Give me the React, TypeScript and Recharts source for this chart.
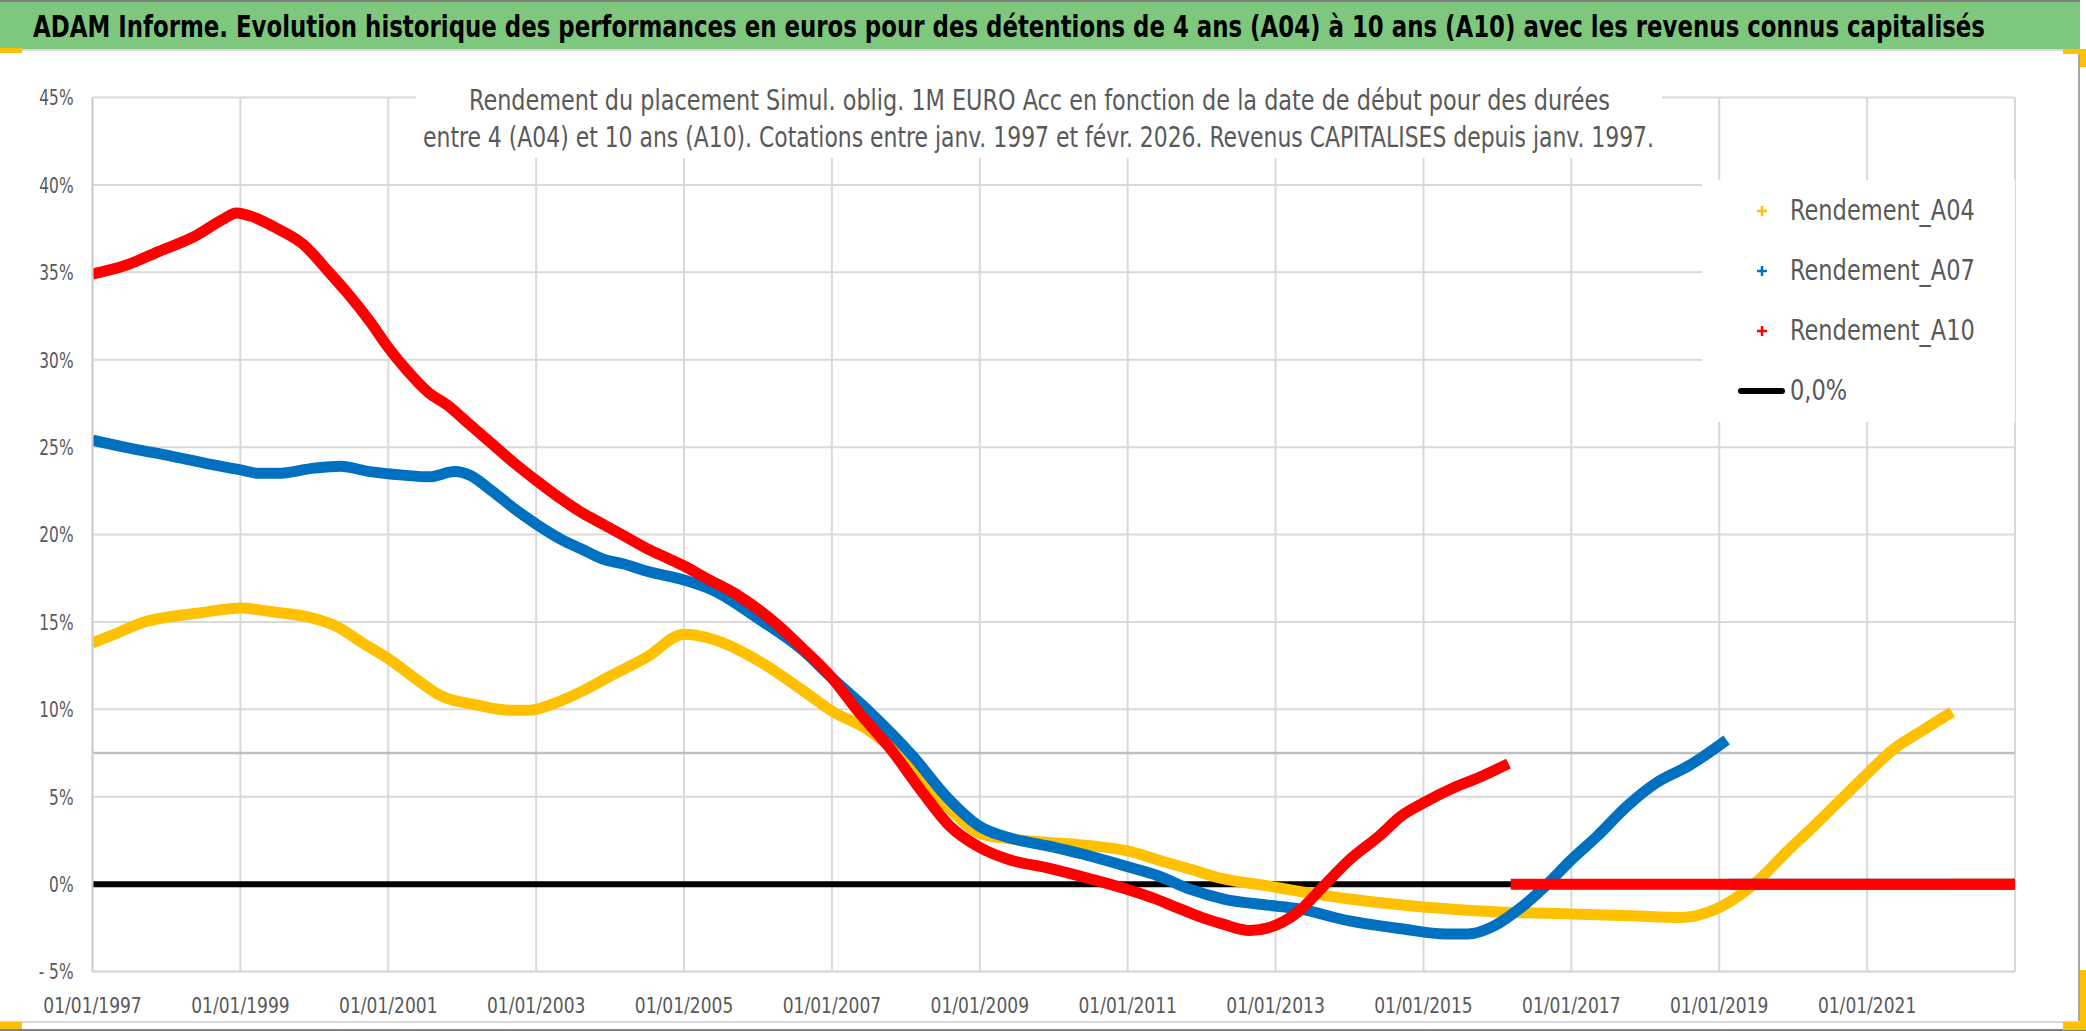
import React from "react"
import { LineChart, Line, XAxis, YAxis, CartesianGrid, ReferenceLine } from "recharts"

const FONT = "'DejaVu Sans Condensed', 'DejaVu Sans', sans-serif"

const TITLE =
  "ADAM Informe. Evolution historique des performances en euros pour des détentions de 4 ans (A04) à 10 ans (A10) avec les revenus connus capitalisés"
const SUBTITLE_1 =
  "Rendement du placement Simul. oblig. 1M EURO Acc en fonction de la date de début pour des durées"
const SUBTITLE_2 =
  "entre 4 (A04) et 10 ans (A10). Cotations entre janv. 1997 et févr. 2026. Revenus CAPITALISES depuis janv. 1997."

const X_TICKS = [1997, 1999, 2001, 2003, 2005, 2007, 2009, 2011, 2013, 2015, 2017, 2019, 2021]
const X_DOMAIN = [1997, 2023]
const Y_TICKS = [-5, 0, 5, 10, 15, 20, 25, 30, 35, 40, 45]

// Rendement_A04 (yellow)
const A04_YEARS = [
  1997.0, 1997.3, 1997.7, 1998.05, 1998.5, 1999.0, 1999.4, 1999.9, 2000.3, 2000.65, 2001.0, 2001.45,
  2001.7, 2002.2, 2002.65, 2002.9, 2003.25, 2003.65, 2004.0, 2004.5, 2005.0, 2005.4, 2006.0, 2006.6,
  2007.0, 2007.5, 2007.8, 2008.2, 2008.6, 2009.0, 2009.4, 2009.9, 2010.5, 2011.0, 2011.4, 2011.85,
  2012.3, 2012.9, 2013.3, 2014.0, 2015.0, 2016.1, 2017.0, 2017.8, 2018.5, 2018.85, 2019.2, 2019.55,
  2019.9, 2020.25, 2020.6, 2020.95, 2021.35, 2021.75, 2022.15,
]
const A04_VALUES = [
  13.8, 14.3, 15.0, 15.3, 15.55, 15.8, 15.6, 15.3, 14.75, 13.8, 12.9, 11.5,
  10.8, 10.25, 9.95, 9.95, 10.35, 11.1, 11.9, 13.0, 14.3, 14.0, 12.8, 11.1,
  9.9, 8.8, 7.8, 6.0, 4.3, 2.9, 2.6, 2.4, 2.2, 1.9, 1.4, 0.85,
  0.3, -0.1, -0.4, -0.85, -1.3, -1.6, -1.7, -1.8, -1.9, -1.6, -0.85, 0.3,
  1.8, 3.2, 4.65, 6.1, 7.7, 8.8, 9.85,
]

// Rendement_A07 (blue)
const A07_YEARS = [
  1997.0, 1997.55, 1998.05, 1998.5, 1999.0, 1999.25, 1999.5, 2000.0, 2000.35, 2000.75, 2001.2, 2001.55,
  2001.9, 2002.1, 2002.4, 2002.7, 2003.0, 2003.35, 2003.6, 2003.9, 2004.2, 2004.5, 2005.0, 2005.4,
  2006.0, 2006.6, 2007.0, 2007.5, 2008.1, 2008.55, 2009.0, 2009.4, 2009.9, 2010.5, 2011.0, 2011.4,
  2011.85, 2012.3, 2012.9, 2013.3, 2014.0, 2014.7, 2015.3, 2015.6, 2015.95, 2016.3, 2016.65, 2017.0,
  2017.35, 2017.75, 2018.15, 2018.6, 2019.1,
]
const A07_VALUES = [
  25.4, 24.9, 24.5, 24.1, 23.7, 23.5, 23.5, 23.8, 23.9, 23.6, 23.4, 23.3,
  23.6, 23.4, 22.5, 21.5, 20.6, 19.7, 19.2, 18.6, 18.3, 17.9, 17.4, 16.8,
  15.2, 13.4, 11.8, 9.9, 7.3, 5.0, 3.3, 2.65, 2.2, 1.6, 1.0, 0.5,
  -0.3, -0.85, -1.2, -1.4, -2.1, -2.55, -2.85, -2.85, -2.4, -1.4, -0.1, 1.4,
  2.75, 4.45, 5.8, 6.8, 8.25,
]

// Rendement_A10 (red)
const A10_YEARS = [
  1997.0, 1997.45, 1997.9, 1998.4, 1998.75, 1998.95, 1999.15, 1999.5, 1999.85, 2000.2, 2000.45, 2000.75,
  2001.0, 2001.25, 2001.55, 2001.8, 2002.1, 2002.4, 2002.7, 2003.0, 2003.35, 2003.6, 2003.9, 2004.2,
  2004.5, 2004.8, 2005.0, 2005.3, 2005.7, 2006.3, 2006.6, 2007.0, 2007.35, 2007.8, 2008.2, 2008.6,
  2009.0, 2009.4, 2009.9, 2010.5, 2011.0, 2011.35, 2011.7, 2012.0, 2012.3, 2012.65, 2012.9, 2013.3,
  2013.65, 2014.0, 2014.4, 2014.7, 2015.0, 2015.4, 2015.75, 2016.15,
]
const A10_VALUES = [
  34.9, 35.4, 36.2, 37.1, 38.0, 38.4, 38.2, 37.5, 36.6, 35.0, 33.8, 32.2,
  30.7, 29.4, 28.1, 27.4, 26.3, 25.2, 24.1, 23.1, 22.0, 21.3, 20.6, 19.9,
  19.2, 18.6, 18.2, 17.5, 16.6, 14.7, 13.5, 11.8, 9.9, 7.7, 5.4, 3.3,
  2.1, 1.4, 0.95, 0.3, -0.3, -0.8, -1.4, -1.9, -2.3, -2.65, -2.5, -1.6,
  -0.1, 1.4, 2.75, 3.9, 4.65, 5.5, 6.1, 6.9,
]

// after its last known value each series is plotted at 0 until the end of the axis
const TAIL_VALUE = 0

// 0,0% reference series
const ZERO_YEARS = [1997, 2023]
const ZERO_VALUES = [0, 0]

type Pt = { x: number; y: number | null }

function withTail(years: number[], values: number[]): Pt[] {
  const pts: Pt[] = years.map((x, i) => ({ x, y: values[i] }))
  const last = years[years.length - 1]
  pts.push({ x: last + 0.01, y: null })
  pts.push({ x: last + 0.03, y: TAIL_VALUE })
  pts.push({ x: X_DOMAIN[1], y: TAIL_VALUE })
  return pts
}

const SERIES = [
  { name: "Rendement_A04", color: "#FFC000", data: withTail(A04_YEARS, A04_VALUES) },
  { name: "Rendement_A07", color: "#0070C0", data: withTail(A07_YEARS, A07_VALUES) },
  { name: "Rendement_A10", color: "#FF0000", data: withTail(A10_YEARS, A10_VALUES) },
]
const zeroData: Pt[] = ZERO_YEARS.map((x, i) => ({ x, y: ZERO_VALUES[i] }))

const W = 2086
const H = 1031
const PLOT_LEFT = 92.5
const PLOT_RIGHT = 2015
const PLOT_TOP = 97.5
const PLOT_BOTTOM = 971.6
const Y_AXIS_W = 80
const X_AXIS_H = 50

const TEXT_GRAY = "#595959"
const GRID = "#d9d9d9"
const HANDLE = "#FFC000"

const fmtPct = (v: number) => (v < 0 ? `- ${Math.abs(v)}%` : `${v}%`)

// tick labels: DejaVu Condensed squeezed/stretched to look like the narrow Calibri of the original
function XTick({ x, y, payload }: any) {
  return (
    <text
      transform={`translate(${x},${y}) scale(0.95,1.1)`}
      textAnchor="middle"
      y={38}
      fontFamily={FONT}
      fontSize={20}
      fill={TEXT_GRAY}
    >
      {`01/01/${payload.value}`}
    </text>
  )
}

function YTick({ x, y, payload }: any) {
  return (
    <text
      transform={`translate(${x},${y}) scale(0.9,1.15)`}
      textAnchor="end"
      y={6.8}
      fontFamily={FONT}
      fontSize={19}
      fill={TEXT_GRAY}
    >
      {fmtPct(payload.value)}
    </text>
  )
}

function Plus({ color }: { color: string }) {
  return (
    <svg width={12} height={12} style={{ position: "absolute", left: -6, top: -6 }}>
      <line x1={1} y1={6} x2={11} y2={6} stroke={color} strokeWidth={2.5} />
      <line x1={6} y1={1} x2={6} y2={11} stroke={color} strokeWidth={2.5} />
    </svg>
  )
}

export default function App() {
  const legendRows = [
    ...SERIES.map((s) => ({ name: s.name, color: s.color, kind: "plus" })),
    { name: "0,0%", color: "#000", kind: "line" },
  ]

  return (
    <div style={{ position: "relative", width: W, height: H, background: "#fff", overflow: "hidden", fontFamily: FONT }}>
      <style>{`body{margin:0}`}</style>

      {/* green title banner */}
      <div style={{ position: "absolute", left: 0, top: 0, width: 2080, height: 2, background: "#808080" }} />
      <div style={{ position: "absolute", left: 0, top: 2, width: 2080, height: 47, background: "#7ec87e" }} />
      <div style={{ position: "absolute", left: 0, top: 49, width: 2080, height: 2, background: "#d9d9d9" }} />

      <div style={{ position: "absolute", left: 0, top: 0 }}>
        <LineChart
          width={W}
          height={H}
          margin={{
            top: PLOT_TOP,
            right: W - PLOT_RIGHT,
            left: PLOT_LEFT - Y_AXIS_W,
            bottom: H - PLOT_BOTTOM - X_AXIS_H,
          }}
        >
          <CartesianGrid stroke={GRID} strokeWidth={2} />
          <XAxis
            type="number"
            dataKey="x"
            domain={X_DOMAIN}
            ticks={X_TICKS}
            interval={0}
            allowDataOverflow
            height={X_AXIS_H}
            tickSize={0}
            tickMargin={0}
            axisLine={{ stroke: GRID, strokeWidth: 2 }}
            tick={<XTick />}
          />
          <YAxis
            type="number"
            domain={[-5, 45]}
            ticks={Y_TICKS}
            interval={0}
            allowDataOverflow
            width={Y_AXIS_W}
            tickSize={0}
            tickMargin={19}
            axisLine={{ stroke: "#cfcfcf", strokeWidth: 2 }}
            tick={<YTick />}
          />
          <ReferenceLine y={7.5} stroke="#bfbfbf" strokeWidth={2.5} />
          <Line
            data={zeroData}
            dataKey="y"
            name="0,0%"
            stroke="#000"
            strokeWidth={6}
            dot={false}
            isAnimationActive={false}
          />
          {SERIES.map((s) => (
            <Line
              key={s.name}
              data={s.data}
              dataKey="y"
              name={s.name}
              type="monotone"
              stroke={s.color}
              strokeWidth={11}
              dot={false}
              connectNulls={false}
              isAnimationActive={false}
            />
          ))}
        </LineChart>
      </div>

      {/* white box behind the chart subtitle */}
      <div style={{ position: "absolute", left: 416, top: 52, width: 1246, height: 106, background: "#fff" }} />

      {/* legend */}
      <div style={{ position: "absolute", left: 1702, top: 180, width: 313, height: 242, background: "#fff" }}>
        {legendRows.map((r, i) => (
          <div key={r.name} style={{ position: "absolute", left: 0, top: 31 + i * 60, width: 313, height: 0 }}>
            <div style={{ position: "absolute", left: 60, top: 0 }}>
              {r.kind === "plus" ? (
                <Plus color={r.color} />
              ) : (
                <div style={{ position: "absolute", left: -24, top: -3, width: 47, height: 6, borderRadius: 3, background: r.color }} />
              )}
            </div>
            <div
              style={{
                position: "absolute",
                left: 88,
                top: -20,
                height: 40,
                lineHeight: "40px",
                fontSize: 25,
                color: TEXT_GRAY,
                whiteSpace: "nowrap",
                transform: "scaleY(1.16)",
                transformOrigin: "left center",
              }}
            >
              {r.name}
            </div>
          </div>
        ))}
      </div>

      {/* titles */}
      <svg width={W} height={H} style={{ position: "absolute", left: 0, top: 0, pointerEvents: "none" }}>
        <text
          transform="translate(1009,37) scale(1,1.18)"
          textAnchor="middle"
          fontFamily={FONT}
          fontWeight="bold"
          fontSize={25.5}
          fill="#000"
          textLength={1952}
          lengthAdjust="spacingAndGlyphs"
        >
          {TITLE}
        </text>
        <text
          transform="translate(1039.5,110) scale(1,1.2)"
          textAnchor="middle"
          fontFamily={FONT}
          fontSize={23.5}
          fill={TEXT_GRAY}
          textLength={1141}
          lengthAdjust="spacingAndGlyphs"
        >
          {SUBTITLE_1}
        </text>
        <text
          transform="translate(1038.5,147) scale(1,1.2)"
          textAnchor="middle"
          fontFamily={FONT}
          fontSize={23.5}
          fill={TEXT_GRAY}
          textLength={1231}
          lengthAdjust="spacingAndGlyphs"
        >
          {SUBTITLE_2}
        </text>
      </svg>

      {/* chart frame and selection handles */}
      <div style={{ position: "absolute", left: 2078, top: 50, width: 2, height: 972, background: "#a6a6a6" }} />
      <div style={{ position: "absolute", left: 0, top: 1021, width: 2080, height: 2, background: "#d9d9d9" }} />
      <div style={{ position: "absolute", left: 0, top: 1029, width: 2086, height: 2, background: "#808080" }} />
      <div style={{ position: "absolute", left: 0, top: 48, width: 22, height: 5, background: HANDLE }} />
      <div style={{ position: "absolute", left: 0, top: 1022, width: 22, height: 7, background: HANDLE }} />
      <div style={{ position: "absolute", left: 2063, top: 49, width: 23, height: 5, background: HANDLE }} />
      <div style={{ position: "absolute", left: 2080, top: 49, width: 6, height: 18, background: HANDLE }} />
      <div style={{ position: "absolute", left: 2080, top: 970, width: 6, height: 60, background: HANDLE }} />
      <div style={{ position: "absolute", left: 2063, top: 1022, width: 23, height: 8, background: HANDLE }} />
    </div>
  )
}
